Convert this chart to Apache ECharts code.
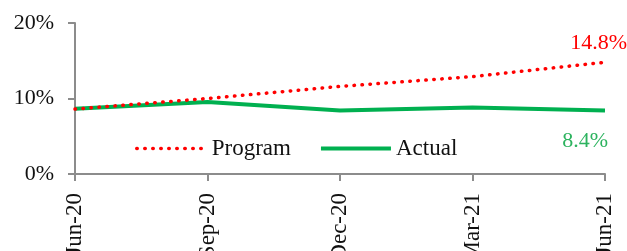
<!DOCTYPE html>
<html>
<head>
<meta charset="utf-8">
<script src="https://cdn.jsdelivr.net/npm/echarts@6/dist/echarts.min.js"></script>
<style>
  html, body { margin: 0; padding: 0; background: #fff; }
  #main { width: 627px; height: 251px; }
</style>
</head>
<body>
<div id="main"></div>
<script>
// 数据
var categories = ['Jun-20', 'Sep-20', 'Dec-20', 'Mar-21', 'Jun-21'];
var programValues = [8.6, 10.0, 11.6, 12.9, 14.8];
var actualValues = [8.65, 9.55, 8.4, 8.8, 8.4];
var yTicks = [0, 10, 20];

var serifFont = '"Liberation Serif", "DejaVu Serif", serif';

function initChart() {
    var chart = echarts.init(document.getElementById('main'));
    var option = {
        animation: false,
        textStyle: { fontFamily: serifFont },
        grid: { left: 75, right: 22, top: 23, bottom: 77, containLabel: false, outerBoundsMode: 'none' },
        legend: {
            left: 130,
            top: 132,
            itemWidth: 70,
            itemHeight: 10,
            itemGap: 28,
            itemStyle: { opacity: 0 },
            lineStyle: { width: 'inherit' },
            textStyle: { fontFamily: serifFont, fontSize: 23, color: '#111' },
            data: ['Program', 'Actual']
        },
        xAxis: {
            type: 'category',
            data: categories,
            boundaryGap: false,
            axisLine: { lineStyle: { color: '#8c8c8c', width: 2 } },
            axisTick: { show: true, length: 7, lineStyle: { color: '#8c8c8c', width: 2 } },
            axisLabel: { rotate: 90, margin: 19, fontFamily: serifFont, fontSize: 23, color: '#111' }
        },
        yAxis: {
            type: 'value',
            min: yTicks[0],
            max: yTicks[yTicks.length - 1],
            interval: 10,
            splitLine: { show: false },
            axisLine: { show: true, lineStyle: { color: '#8c8c8c', width: 2 } },
            axisTick: { show: true, length: 7, lineStyle: { color: '#8c8c8c', width: 2 } },
            axisLabel: { formatter: '{value}%', margin: 21, fontFamily: serifFont, fontSize: 22, color: '#111' }
        },
        series: [
            {
                name: 'Program',
                type: 'line',
                symbol: 'none',
                color: '#ff0000',
                lineStyle: { color: '#ff0000', width: 3.5, type: [0.5, 7.5], cap: 'round' },
                endLabel: {
                    show: true, formatter: '{c}%', color: '#ff0000',
                    fontFamily: serifFont, fontSize: 22,
                    align: 'right', verticalAlign: 'middle', distance: 0, offset: [22, -19]
                },
                data: programValues,
                z: 3
            },
            {
                name: 'Actual',
                type: 'line',
                symbol: 'none',
                color: '#00b050',
                lineStyle: { color: '#00b050', width: 4 },
                endLabel: {
                    show: true, formatter: '{c}%', color: '#2db35f',
                    fontFamily: serifFont, fontSize: 22,
                    align: 'right', verticalAlign: 'middle', distance: 0, offset: [3, 31]
                },
                data: actualValues,
                z: 2
            }
        ]
    };
    chart.setOption(option);
}

initChart();
</script>
</body>
</html>
